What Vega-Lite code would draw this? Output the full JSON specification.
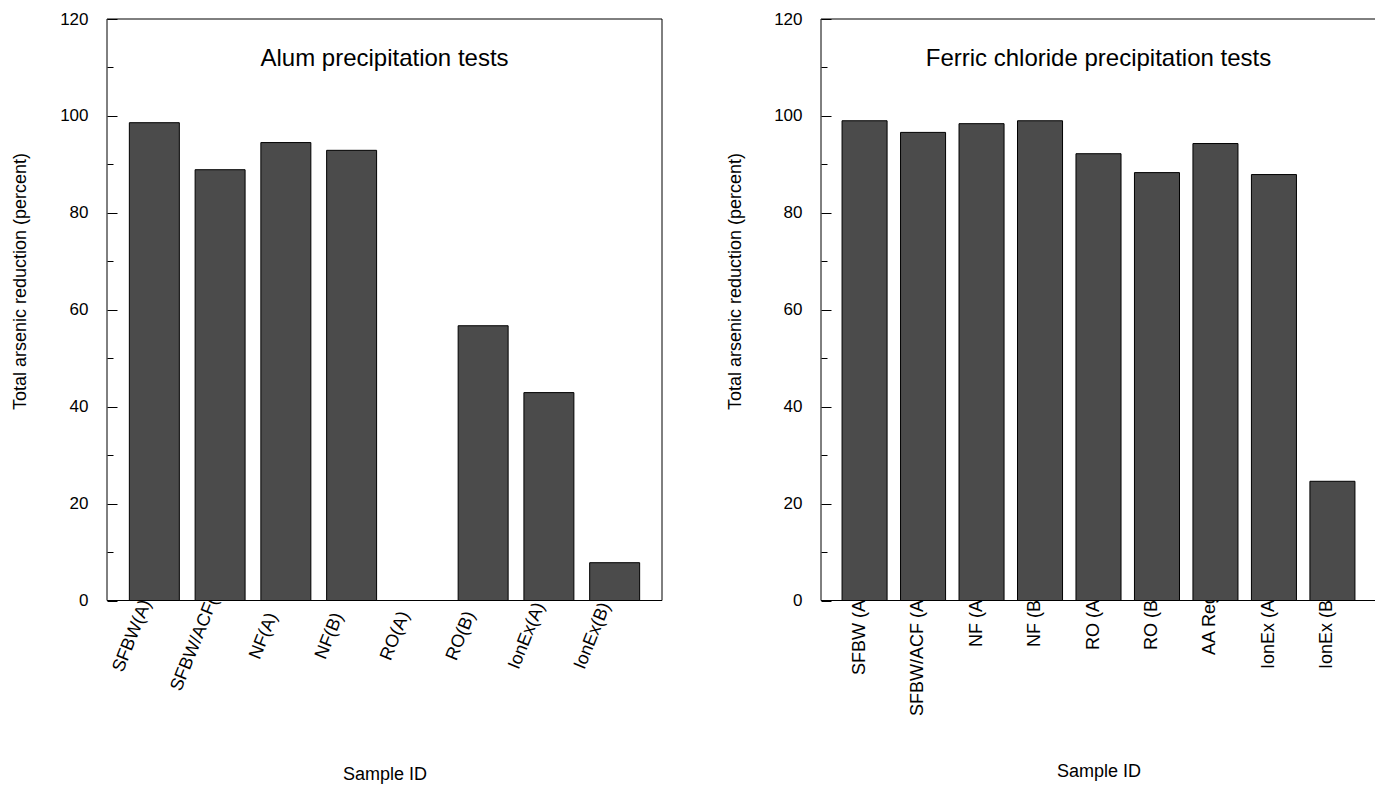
{
  "$schema": "https://vega.github.io/schema/vega-lite/v6.json",
  "background": "white",
  "padding": {"left": 11, "top": 10, "right": 0, "bottom": 0},
  "datasets": {
    "alum": [
      {"sample": "SFBW(A)", "reduction": 98.6},
      {"sample": "SFBW/ACF(A)", "reduction": 88.9},
      {"sample": "NF(A)", "reduction": 94.5},
      {"sample": "NF(B)", "reduction": 92.9},
      {"sample": "RO(A)", "reduction": 0},
      {"sample": "RO(B)", "reduction": 56.7},
      {"sample": "IonEx(A)", "reduction": 42.9},
      {"sample": "IonEx(B)", "reduction": 7.8}
    ],
    "ferric": [
      {"sample": "SFBW (A)", "reduction": 99.0},
      {"sample": "SFBW/ACF (A)", "reduction": 96.6},
      {"sample": "NF (A)", "reduction": 98.4},
      {"sample": "NF (B)", "reduction": 99.0},
      {"sample": "RO (A)", "reduction": 92.2},
      {"sample": "RO (B)", "reduction": 88.3},
      {"sample": "AA Reg", "reduction": 94.3},
      {"sample": "IonEx (A)", "reduction": 87.9},
      {"sample": "IonEx (B)", "reduction": 24.6}
    ]
  },
  "bounds": "flush",
  "spacing": 159,
  "hconcat": [
    {
      "width": 555,
      "height": 581.5,
      "title": {
        "text": "Alum precipitation tests",
        "offset": -80,
        "zindex": 1,
        "fontSize": 24,
        "fontWeight": "normal",
        "baseline": "alphabetic",
        "anchor": "middle",
        "color": "black"
      },
      "resolve": {"axis": {"y": "independent"}},
      "layer": [
        {
          "data": {"values": [{}]},
          "mark": {"type": "rect", "fill": "white", "stroke": "black", "strokeWidth": 1},
          "encoding": {
            "y": {
              "datum": 0,
              "type": "quantitative",
              "axis": {
                "orient": "left",
                "values": [10, 30, 50, 70, 90, 110],
                "labels": false,
                "tickSize": -6,
                "domain": false,
                "grid": false,
                "title": null,
                "zindex": 1
              }
            },
            "y2": {"datum": 120}
          }
        },
        {
          "data": {"name": "alum"},
          "mark": {"type": "bar", "color": "#4b4b4b", "stroke": "black", "strokeWidth": 1},
          "encoding": {
            "x": {
              "field": "sample",
              "type": "nominal",
              "sort": null,
              "scale": {"paddingInner": 0.24, "paddingOuter": 0.34},
              "axis": {
                "title": "Sample ID",
                "labelAngle": -68,
                "labelAlign": "center",
                "labelBaseline": "middle",
                "labelPadding": 35,
                "labelOffset": -22,
                "labelOverlap": false,
                "ticks": false,
                "domain": false,
                "titleY": 174,
                "titleBaseline": "middle",
                "zindex": 0
              }
            },
            "y": {
              "field": "reduction",
              "type": "quantitative",
              "scale": {"domain": [0, 120], "nice": false},
              "axis": {
                "orient": "left",
                "title": "Total arsenic reduction (percent)",
                "values": [0, 20, 40, 60, 80, 100, 120],
                "tickSize": -10,
                "labelPadding": 29,
                "domain": false,
                "grid": false,
                "titleX": -87,
                "titleY": 262,
                "titleBaseline": "middle",
                "zindex": 1
              }
            }
          }
        }
      ]
    },
    {
      "width": 555,
      "height": 581.5,
      "title": {
        "text": "Ferric chloride precipitation tests",
        "offset": -80,
        "zindex": 1,
        "fontSize": 24,
        "fontWeight": "normal",
        "baseline": "alphabetic",
        "anchor": "middle",
        "color": "black"
      },
      "resolve": {"axis": {"y": "independent"}},
      "layer": [
        {
          "data": {"values": [{}]},
          "mark": {"type": "rect", "fill": "white", "stroke": "black", "strokeWidth": 1},
          "encoding": {
            "y": {
              "datum": 0,
              "type": "quantitative",
              "axis": {
                "orient": "left",
                "values": [10, 30, 50, 70, 90, 110],
                "labels": false,
                "tickSize": -6,
                "domain": false,
                "grid": false,
                "title": null,
                "zindex": 1
              }
            },
            "y2": {"datum": 120}
          }
        },
        {
          "data": {"name": "ferric"},
          "mark": {"type": "bar", "color": "#4b4b4b", "stroke": "black", "strokeWidth": 1},
          "encoding": {
            "x": {
              "field": "sample",
              "type": "nominal",
              "sort": null,
              "scale": {"paddingInner": 0.23, "paddingOuter": 0.36},
              "axis": {
                "title": "Sample ID",
                "labelAngle": -90,
                "labelAlign": "right",
                "labelBaseline": "alphabetic",
                "labelPadding": -7,
                "labelOverlap": false,
                "ticks": false,
                "domain": false,
                "titleY": 171,
                "titleBaseline": "middle",
                "zindex": 0
              }
            },
            "y": {
              "field": "reduction",
              "type": "quantitative",
              "scale": {"domain": [0, 120], "nice": false},
              "axis": {
                "orient": "left",
                "title": "Total arsenic reduction (percent)",
                "values": [0, 20, 40, 60, 80, 100, 120],
                "tickSize": -10,
                "labelPadding": 29,
                "domain": false,
                "grid": false,
                "titleX": -86,
                "titleY": 262,
                "titleBaseline": "middle",
                "zindex": 1
              }
            }
          }
        }
      ]
    }
  ],
  "config": {
    "view": {"stroke": null},
    "font": "Liberation Sans",
    "axis": {
      "labelFont": "Liberation Sans",
      "labelFontSize": 17,
      "labelColor": "black",
      "titleFont": "Liberation Sans",
      "titleFontSize": 18,
      "titleFontWeight": "normal",
      "titleColor": "black",
      "tickColor": "black",
      "tickWidth": 1
    },
    "axisX": {"labelFontSize": 18}
  }
}
